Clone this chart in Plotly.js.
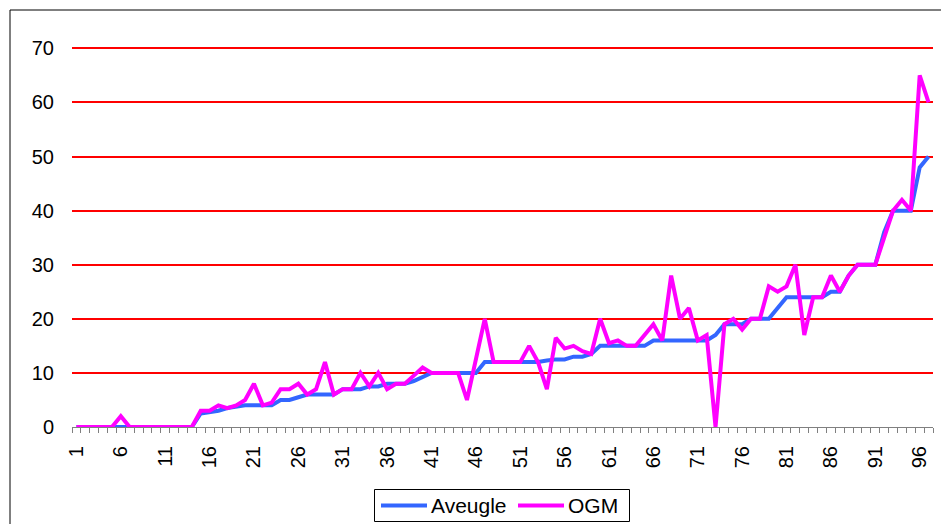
<!DOCTYPE html>
<html>
<head>
<meta charset="utf-8">
<script src="https://cdn.plot.ly/plotly-3.0.1.min.js"></script>
<style>
  html, body { margin: 0; padding: 0; background: #ffffff; }
  #chart { width: 941px; height: 524px; }
</style>
</head>
<body>
<div id="chart"></div>
<script>
// Rank of each observation (x axis)
const ranks = [
  1, 2, 3, 4, 5, 6, 7, 8, 9, 10, 11, 12, 13, 14, 15, 16, 17, 18, 19, 20,
  21, 22, 23, 24, 25, 26, 27, 28, 29, 30, 31, 32, 33, 34, 35, 36, 37, 38, 39, 40,
  41, 42, 43, 44, 45, 46, 47, 48, 49, 50, 51, 52, 53, 54, 55, 56, 57, 58, 59, 60,
  61, 62, 63, 64, 65, 66, 67, 68, 69, 70, 71, 72, 73, 74, 75, 76, 77, 78, 79, 80,
  81, 82, 83, 84, 85, 86, 87, 88, 89, 90, 91, 92, 93, 94, 95, 96, 97
];

// Series "Aveugle" (sorted)
const aveugle = [
  0, 0, 0, 0, 0, 0, 0, 0, 0, 0, 0, 0, 0, 0, 2.5, 2.7, 3, 3.5, 3.8, 4,
  4, 4, 4, 5, 5, 5.5, 6, 6, 6, 6, 7, 7, 7, 7.5, 7.5, 8, 8, 8, 8.5, 9.2,
  10, 10, 10, 10, 10, 10, 12, 12, 12, 12, 12, 12, 12, 12.3, 12.5, 12.5, 13, 13, 13.5, 15,
  15, 15, 15, 15, 15, 16, 16, 16, 16, 16, 16, 16, 17, 19, 19, 19, 20, 20, 20, 22,
  24, 24, 24, 24, 24, 25, 25, 28, 30, 30, 30, 36, 40, 40, 40, 48, 50
];

// Series "OGM"
const ogm = [
  0, 0, 0, 0, 0, 2, 0, 0, 0, 0, 0, 0, 0, 0, 3, 3, 4, 3.5, 4, 5,
  8, 4, 4.5, 7, 7, 8, 6, 7, 12, 6, 7, 7, 10, 7.5, 10, 7, 8, 8, 9.5, 11,
  10, 10, 10, 10, 5, 12.5, 20, 12, 12, 12, 12, 15, 12, 7, 16.5, 14.5, 15, 14, 13.5, 20,
  15.5, 16, 15, 15, 17, 19, 16, 28, 20, 22, 16, 17, 0, 19, 20, 18, 20, 20, 26, 25,
  26, 30, 17, 24, 24, 28, 25, 28, 30, 30, 30, 35, 40, 42, 40, 65, 60
];

const seriesNames = ['Aveugle', 'OGM'];
const seriesColors = ['#3366FF', '#FF00FF'];

// Labelled ranks on the x axis
const xTickLabels = [1, 6, 11, 16, 21, 26, 31, 36, 41, 46, 51, 56, 61, 66, 71, 76, 81, 86, 91, 96];
const yTicks = [0, 10, 20, 30, 40, 50, 60, 70];

const FONT = 'Liberation Sans, Arial, sans-serif';
const TICK_FS = 20;
const LEG_FS = 21;

// Plot area geometry (pixels)
const W = 941, H = 524;
const M = { l: 72, r: 8, t: 47, b: 97 };
const PW = W - M.l - M.r;
const PH = H - M.t - M.b;
const px2x = p => (p - M.l) / PW;          // page x -> paper x
const px2y = p => (H - M.b - p) / PH;      // page y -> paper y

const traces = [aveugle, ogm].map((vals, k) => ({
  x: ranks, y: vals, name: seriesNames[k], type: 'scatter', mode: 'lines',
  line: { color: seriesColors[k], width: 4, shape: 'linear' },
  showlegend: false,
  hoverinfo: 'x+y+name'
}));

// Legend drawn as a framed box below the plot: a line sample then the series name
const legBox = { x0: 374.5, x1: 629.5, y0: 489.5, y1: 521.5 };
const legItems = [
  { lineX0: 381, lineX1: 427, textX: 429 },
  { lineX0: 518, lineX1: 564, textX: 566 }
];
const legY = 505.5;

const shapes = [
  {
    // outer frame of the chart area; its right and bottom sides run past the page
    type: 'rect', xref: 'paper', yref: 'paper',
    x0: px2x(10), x1: px2x(W + 20), y0: px2y(H + 20), y1: px2y(10),
    line: { color: '#000000', width: 1 },
    fillcolor: 'rgba(0,0,0,0)', layer: 'below'
  },
  {
    type: 'rect', xref: 'paper', yref: 'paper',
    x0: px2x(legBox.x0), x1: px2x(legBox.x1), y0: px2y(legBox.y1), y1: px2y(legBox.y0),
    line: { color: '#000000', width: 1 },
    fillcolor: '#ffffff', layer: 'above'
  }
];
const annotations = [];
legItems.forEach((it, k) => {
  shapes.push({
    type: 'line', xref: 'paper', yref: 'paper',
    x0: px2x(it.lineX0), x1: px2x(it.lineX1), y0: px2y(legY), y1: px2y(legY),
    line: { color: seriesColors[k], width: 4 }, layer: 'above'
  });
  annotations.push({
    xref: 'paper', yref: 'paper', x: px2x(it.textX), y: px2y(legY),
    xanchor: 'left', yanchor: 'middle', showarrow: false,
    text: seriesNames[k],
    font: { family: FONT, size: LEG_FS, color: '#000000' }
  });
});

const layout = {
  width: W,
  height: H,
  margin: { l: M.l, r: M.r, t: M.t, b: M.b, pad: 0, autoexpand: false },
  paper_bgcolor: '#ffffff',
  plot_bgcolor: '#ffffff',
  font: { family: FONT, size: TICK_FS, color: '#000000' },
  showlegend: false,
  xaxis: {
    type: 'linear',
    range: [0.5, 97.5],
    automargin: false,
    tickmode: 'array',
    tickvals: xTickLabels,
    ticktext: xTickLabels.map(String),
    tickangle: -90,
    ticks: '',
    ticklabelstandoff: 10,
    showgrid: false,
    zeroline: false,
    showline: true,
    linecolor: '#808080',
    linewidth: 1,
    minor: {
      tickmode: 'linear', tick0: 0.5, dtick: 1,
      ticks: 'outside', ticklen: 5, tickwidth: 1, tickcolor: '#808080',
      showgrid: false
    },
    tickfont: { family: FONT, size: TICK_FS, color: '#000000' },
    fixedrange: true
  },
  yaxis: {
    range: [0, 70.25],
    automargin: false,
    tickmode: 'array',
    tickvals: yTicks,
    ticktext: yTicks.map(String),
    ticks: '',
    ticklabelstandoff: 17,
    showgrid: true,
    gridcolor: '#FF0000',
    gridwidth: 2,
    zeroline: true,
    zerolinecolor: '#808080',
    zerolinewidth: 1,
    showline: false,
    tickfont: { family: FONT, size: TICK_FS, color: '#000000' },
    fixedrange: true
  },
  shapes: shapes,
  annotations: annotations
};

Plotly.newPlot('chart', traces, layout, { displayModeBar: false, staticPlot: true });
</script>
</body>
</html>
